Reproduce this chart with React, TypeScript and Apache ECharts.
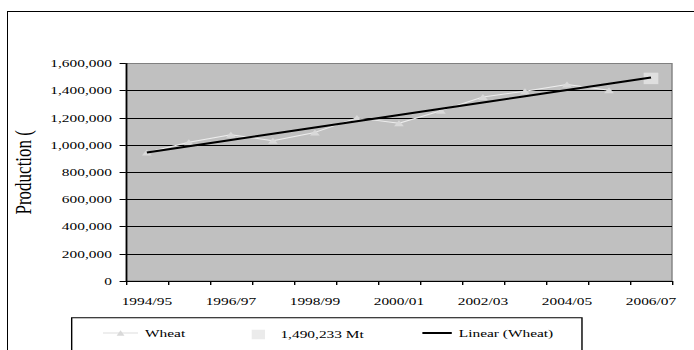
import React, { useEffect, useRef } from 'react';
import * as echarts from 'echarts';

const years = [
  '1994/95', '1995/96', '1996/97', '1997/98', '1998/99', '1999/00', '2000/01',
  '2001/02', '2002/03', '2003/04', '2004/05', '2005/06', '2006/07',
];
const wheat = [945000, 1020000, 1076000, 1032000, 1093000, 1200000, 1160000, 1253000, 1354000, 1396000, 1445000, 1403000];
const forecastName = '1,490,233 Mt';
const forecastValue = 1490233;
const trendName = 'Linear (Wheat)';
const yAxisName = 'Production (';

const S = 1.4;
const W = 694 / S;
const FONT = "'Liberation Serif'";

function linearTrend(values: number[], n: number): number[] {
  const m = values.length;
  const mx = (m - 1) / 2;
  const my = values.reduce((a, b) => a + b, 0) / m;
  let sxy = 0;
  let sxx = 0;
  values.forEach((v, i) => {
    sxy += (i - mx) * (v - my);
    sxx += (i - mx) * (i - mx);
  });
  const slope = sxy / sxx;
  const icpt = my - slope * mx;
  const out: number[] = [];
  for (let i = 0; i < n; i++) out.push(icpt + slope * i);
  return out;
}

export default function App() {
  const ref = useRef<HTMLDivElement>(null);
  useEffect(() => {
    const chart = echarts.init(ref.current!, null, { renderer: 'svg', width: W, height: 350 });
    const trend = linearTrend(wheat, years.length);
    const txt = { fontFamily: FONT, fontSize: 11, color: '#000' };
    chart.setOption({
      animation: false,
      backgroundColor: 'transparent',
      grid: {
        left: 87.1,
        right: W - 480,
        top: 63.5,
        bottom: 69,
        show: true,
        backgroundColor: '#C0C0C0',
        borderColor: '#808080',
        borderWidth: 1,
      },
      xAxis: {
        type: 'category',
        data: years,
        boundaryGap: true,
        axisLine: { show: true, lineStyle: { color: '#000', width: 1 } },
        axisTick: { show: true, interval: 0, length: 4, lineStyle: { color: '#000' } },
        axisLabel: { ...txt, interval: 1, margin: 15 },
        splitLine: { show: false },
      },
      yAxis: {
        type: 'value',
        min: 0,
        max: 1600000,
        interval: 200000,
        name: yAxisName,
        nameLocation: 'middle',
        nameRotate: 90,
        nameGap: 57,
        nameTextStyle: {
          fontFamily: FONT,
          fontSize: 17,
          color: '#000',
        },
        axisLine: { show: true, lineStyle: { color: '#000', width: 1 } },
        axisTick: { show: true, length: 4.5, lineStyle: { color: '#000' } },
        axisLabel: {
          ...txt,
          margin: 10,
          formatter: (v: number) => v.toLocaleString('en-US'),
        },
        splitLine: { show: true, showMaxLine: false, lineStyle: { color: '#000', width: 1 } },
      },
      legend: [
        {
          data: ['Wheat'],
          left: 72.6,
          top: 327.5,
          padding: 0,
          itemWidth: 25,
          itemHeight: 7,
          textStyle: txt,
        },
        {
          data: [{ name: forecastName, icon: 'rect' }],
          left: 179.8,
          top: 329,
          padding: 0,
          itemWidth: 9.5,
          itemHeight: 9.5,
          textStyle: { ...txt, padding: [0, 0, 0, 6] },
        },
        {
          data: [{ name: trendName, itemStyle: { opacity: 0 } }],
          left: 300.7,
          top: 327.5,
          padding: 0,
          itemWidth: 21,
          itemHeight: 12,
          textStyle: txt,
        },
      ],
      graphic: [
        {
          type: 'rect',
          shape: { x: 51.2, y: 317.7, width: 364.5, height: 60 },
          style: { fill: 'none', stroke: '#000', lineWidth: 1 },
          silent: true,
        },
      ],
      series: [
        {
          name: 'Wheat',
          type: 'line',
          data: wheat,
          symbol: 'triangle',
          symbolSize: [7, 6],
          lineStyle: { color: '#EEEEEE', width: 1 },
          itemStyle: { color: '#D9D9D9', borderWidth: 0 },
          z: 2,
        },
        {
          name: forecastName,
          type: 'scatter',
          data: [[years[years.length - 1], forecastValue]],
          symbol: 'rect',
          symbolSize: [10.5, 11.5],
          itemStyle: { color: '#E6E6E6' },
          z: 2,
        },
        {
          name: trendName,
          type: 'line',
          data: trend,
          symbol: 'none',
          lineStyle: { color: '#000', width: 2 },
          itemStyle: { color: '#000' },
          z: 3,
        },
      ],
    });
    return () => chart.dispose();
  }, []);
  return (
    <div
      style={{
        position: 'absolute',
        left: 0,
        top: 0,
        width: 694,
        height: 350,
        overflow: 'hidden',
        background: '#fff',
      }}
    >
      <div
        style={{
          position: 'absolute',
          left: 7,
          top: 11,
          width: 800,
          height: 500,
          border: '1px solid #000',
        }}
      />
      <div
        ref={ref}
        style={{
          position: 'absolute',
          left: 0,
          top: 0,
          width: W,
          height: 350,
          transform: `scaleX(${S})`,
          transformOrigin: '0 0',
        }}
      />
    </div>
  );
}
